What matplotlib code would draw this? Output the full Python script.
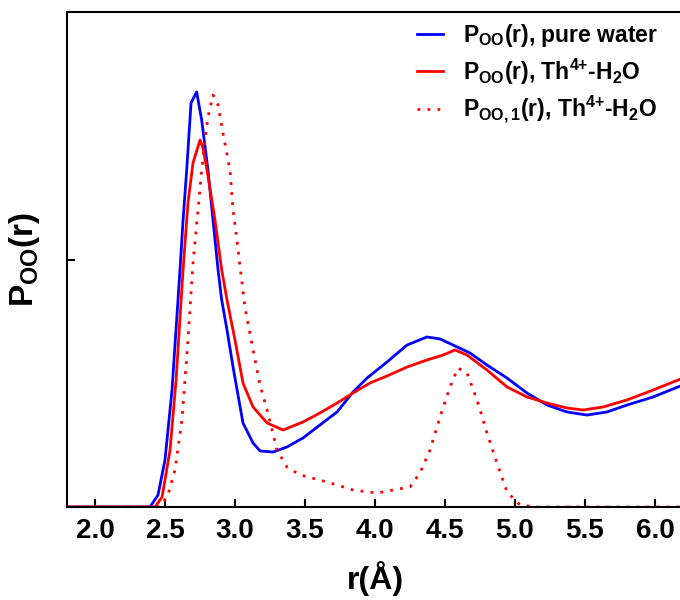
import numpy as np
import matplotlib
matplotlib.use('Agg')
import matplotlib.pyplot as plt

plt.rcParams['font.family'] = ['Liberation Sans', 'DejaVu Sans']
plt.rcParams['font.weight'] = 'bold'
plt.rcParams['mathtext.fontset'] = 'custom'
plt.rcParams['mathtext.rm'] = 'Liberation Sans:bold'
plt.rcParams['mathtext.bf'] = 'Liberation Sans:bold'
plt.rcParams['mathtext.it'] = 'Liberation Sans:bold'
plt.rcParams['mathtext.default'] = 'bf'

# O-O distribution, pure water
r_water = [1.8, 2.393, 2.45, 2.5, 2.55, 2.607, 2.629, 2.655, 2.686, 2.726, 2.762,
           2.807, 2.843, 2.879, 2.905, 2.943, 2.986, 3.057, 3.129, 3.179, 3.271,
           3.371, 3.486, 3.607, 3.729, 3.843, 3.943, 4.086, 4.229, 4.371, 4.464,
           4.557, 4.679, 4.8, 4.943, 5.086, 5.229, 5.371, 5.514, 5.657, 5.8,
           5.986, 6.164, 6.2]
p_water = [0.0, 0.0, 0.097, 0.38, 0.945, 1.915, 2.319, 2.723, 3.265, 3.354, 3.127,
           2.723, 2.319, 1.915, 1.673, 1.43, 1.131, 0.679, 0.517, 0.453, 0.444,
           0.485, 0.558, 0.663, 0.768, 0.929, 1.042, 1.172, 1.309, 1.374, 1.358,
           1.309, 1.244, 1.147, 1.042, 0.921, 0.824, 0.768, 0.743, 0.768, 0.824,
           0.889, 0.97, 0.985]

# O-O distribution, Th4+ solution
r_th = [1.8, 2.429, 2.479, 2.536, 2.579, 2.629, 2.664, 2.7, 2.75, 2.771, 2.8,
        2.857, 2.905, 2.943, 3.0, 3.057, 3.129, 3.229, 3.343, 3.486, 3.607,
        3.729, 3.843, 3.964, 4.086, 4.229, 4.371, 4.486, 4.571, 4.657, 4.8,
        4.943, 5.086, 5.229, 5.371, 5.486, 5.629, 5.8, 5.986, 6.164, 6.2]
p_th = [0.0, 0.0, 0.081, 0.461, 1.026, 1.915, 2.457, 2.78, 2.966, 2.901, 2.723,
        2.319, 1.915, 1.673, 1.349, 1.002, 0.808, 0.679, 0.622, 0.687, 0.76,
        0.84, 0.921, 1.002, 1.059, 1.131, 1.188, 1.228, 1.269, 1.228, 1.107,
        0.97, 0.889, 0.84, 0.8, 0.784, 0.808, 0.865, 0.945, 1.026, 1.04]

# first-shell water oxygens around Th4+
r_th1 = [1.8, 2.464, 2.521, 2.571, 2.621, 2.664, 2.7, 2.736, 2.762, 2.786, 2.807,
         2.843, 2.879, 2.914, 2.964, 2.986, 3.014, 3.036, 3.071, 3.129, 3.179,
         3.229, 3.3, 3.371, 3.464, 3.607, 3.729, 3.843, 4.014, 4.129, 4.25,
         4.321, 4.393, 4.464, 4.536, 4.593, 4.657, 4.729, 4.8, 4.871, 4.943,
         5.036, 5.157, 6.2]
p_th1 = [0.0, 0.0, 0.097, 0.299, 0.703, 1.349, 1.972, 2.4, 2.723, 2.966, 3.152,
         3.329, 3.248, 3.022, 2.723, 2.4, 2.158, 1.939, 1.616, 1.269, 0.986,
         0.784, 0.461, 0.323, 0.259, 0.218, 0.178, 0.137, 0.113, 0.137, 0.162,
         0.275, 0.461, 0.727, 0.97, 1.123, 1.083, 0.865, 0.598, 0.356, 0.121,
         0.016, 0.0, 0.0]

xticks = [2.0, 2.5, 3.0, 3.5, 4.0, 4.5, 5.0, 5.5, 6.0]

fig = plt.figure(figsize=(6.8, 6.0), dpi=100)
ax = fig.add_axes([67 / 680, 93 / 600, 616 / 680, 495 / 600])

ax.plot(r_water, p_water, color='#0000ff', lw=2.0,
        label=r'$P_{OO}(r)$, pure water')
ax.plot(r_th, p_th, color='#ff0000', lw=2.0,
        label=r'$P_{OO}(r)$, Th$^{4{+}}$-H$_2$O')
ax.plot(r_th1, p_th1, color='#ff0000', lw=2.0, linestyle=(0, (1, 2.6)),
        label=r'$P_{OO,1}(r)$, Th$^{4{+}}$-H$_2$O')

ax.set_xlim(1.8, 6.2)
ax.set_ylim(0, 4)
ax.set_xticks(xticks)
ax.set_xticklabels(['%.1f' % t for t in xticks])
ax.set_yticks([2])
ax.set_yticklabels([])
ax.tick_params(direction='in', length=6, width=1.5, labelsize=20, pad=8)
for s in ax.spines.values():
    s.set_linewidth(1.5)
ax.spines['right'].set_visible(False)

ax.set_xlabel('r(Å)', fontsize=23, fontweight='bold', labelpad=12)
ax.set_ylabel(r'$P_{OO}(r)$', fontsize=24)
ax.yaxis.set_label_coords(-0.04, 0.5)

ax.legend(loc='upper left', bbox_to_anchor=(417 / 680, 1 - 22 / 600),
          bbox_transform=fig.transFigure, frameon=False, fontsize=16.5,
          handlelength=1.15, handletextpad=0.85, labelspacing=0.32,
          borderpad=0, borderaxespad=0)

fig.savefig('out.png', dpi=100)
